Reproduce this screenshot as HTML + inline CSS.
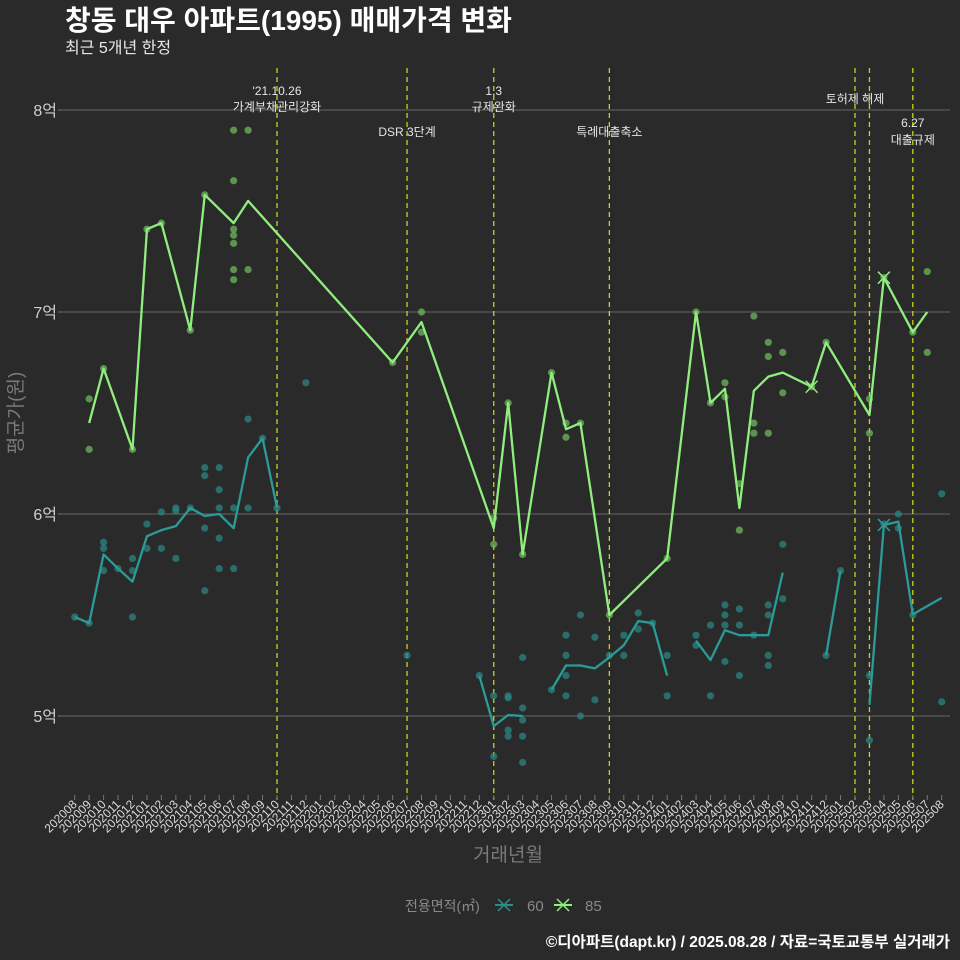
<!DOCTYPE html>
<html><head><meta charset="utf-8">
<style>
html,body{margin:0;padding:0;background:#2b2a2b;}
svg{display:block;font-family:"Liberation Sans","Noto Sans CJK KR",sans-serif;}
</style></head>
<body>
<svg id="chart" width="960" height="960" viewBox="0 0 960 960">
<rect width="960" height="960" fill="#2b2a2b"/>
<text x="65" y="30" font-size="28" font-weight="bold" fill="#ffffff">창동 대우 아파트(1995) 매매가격 변화</text>
<text x="65" y="53" font-size="16" fill="#e8e8e8">최근 5개년 한정</text>
<g id="grid"></g>
<g id="vlines"></g>
<g id="xaxis"></g>
<g id="yaxis"></g>
<g id="marks"></g>
<text x="22" y="413" font-size="19" fill="#7a7a7a" text-anchor="middle" transform="rotate(-90 22 413)">평균가(원)</text>
<text x="508" y="861" font-size="19" fill="#7a7a7a" text-anchor="middle">거래년월</text>
<g>
<text x="405" y="911" font-size="14" fill="#8a8a8a">전용면적(㎡)</text>
<g>
<line x1="495" y1="905" x2="513" y2="905" stroke="#2a8f8c" stroke-width="2"/>
<path d="M498 899 L510 911 M510 899 L498 911" stroke="#2a8f8c" stroke-width="1.5"/>
<text x="527" y="911" font-size="15" fill="#8a8a8a">60</text>
</g>
<g>
<line x1="554" y1="905" x2="572" y2="905" stroke="#90ee7e" stroke-width="2"/>
<path d="M557 899 L569 911 M569 899 L557 911" stroke="#90ee7e" stroke-width="1.5"/>
<text x="585" y="911" font-size="15" fill="#8a8a8a">85</text>
</g>
</g>
<text x="950" y="947" font-size="15.5" font-weight="bold" fill="#ffffff" text-anchor="end">©디아파트(dapt.kr) / 2025.08.28 / 자료=국토교통부 실거래가</text>
</svg>
<script>
const months = [];
for (let y = 2020; y <= 2025; y++) for (let m = 1; m <= 12; m++) {
  if ((y === 2020 && m < 8) || (y === 2025 && m > 8)) continue;
  months.push(String(y) + String(m).padStart(2, '0'));
}
const yTicks = [5, 6, 7, 8];
const yTickLabels = ['5억', '6억', '7억', '8억'];
const eventMonths = ['202110', '202207', '202301', '202309', '202502', '202503', '202506'];
const eventLabels = [
  ["'21.10.26", '가계부채관리강화'], ['', 'DSR 3단계'], ['1.3', '규제완화'], ['', '특례대출축소'], ['', '토허제 해제'], ['', ''], ['6.27', '대출규제']
];
const dots85 = [
  ['202009',6.57],['202009',6.32],['202010',6.72],['202012',6.32],['202101',7.41],['202102',7.44],['202104',6.91],['202105',7.58],
  ['202107',7.90],['202107',7.65],['202107',7.41],['202107',7.38],['202107',7.34],['202107',7.21],['202107',7.16],
  ['202108',7.90],['202108',7.21],['202206',6.75],['202208',7.00],['202208',6.90],['202301',5.98],['202301',5.85],
  ['202302',6.55],['202303',5.80],['202305',6.70],['202306',6.45],['202306',6.38],['202307',6.45],['202309',5.50],
  ['202401',5.78],['202403',7.00],['202404',6.55],['202405',6.65],['202405',6.58],['202406',6.15],['202406',5.92],
  ['202407',6.98],['202407',6.45],['202407',6.40],['202408',6.85],['202408',6.78],['202408',6.40],['202409',6.80],['202409',6.60],
  ['202411',6.63],['202412',6.85],['202503',6.57],['202503',6.40],['202504',7.17],['202506',6.90],['202507',7.20],['202507',6.80]
];
const dots60 = [
  ['202008',5.49],['202009',5.46],['202010',5.86],['202010',5.83],['202010',5.72],['202011',5.73],['202012',5.78],['202012',5.72],['202012',5.49],
  ['202101',5.95],['202101',5.83],['202102',6.01],['202102',5.83],['202103',6.03],['202103',6.015],['202103',5.78],['202104',6.03],
  ['202105',6.23],['202105',6.19],['202105',5.93],['202105',5.62],['202106',6.23],['202106',6.12],['202106',6.03],['202106',5.88],['202106',5.73],
  ['202107',6.03],['202107',5.73],['202108',6.47],['202108',6.03],['202109',6.375],['202110',6.03],['202112',6.65],['202207',5.30],
  ['202212',5.20],['202301',5.10],['202301',4.80],['202302',5.10],['202302',5.09],['202302',4.93],['202302',4.90],
  ['202303',5.29],['202303',5.04],['202303',4.98],['202303',4.90],['202303',4.77],['202305',5.13],
  ['202306',5.40],['202306',5.30],['202306',5.20],['202306',5.10],['202307',5.50],['202307',5.00],['202308',5.39],['202308',5.08],
  ['202309',5.30],['202310',5.40],['202310',5.30],['202311',5.51],['202311',5.43],['202312',5.46],['202401',5.30],['202401',5.10],
  ['202403',5.40],['202403',5.35],['202404',5.45],['202404',5.10],['202405',5.55],['202405',5.50],['202405',5.45],['202405',5.27],
  ['202406',5.53],['202406',5.45],['202406',5.20],['202407',5.40],['202408',5.55],['202408',5.50],['202408',5.30],['202408',5.25],
  ['202409',5.85],['202409',5.58],['202412',5.30],['202501',5.72],['202503',5.20],['202503',4.88],['202504',5.95],
  ['202505',6.00],['202505',5.93],['202506',5.50],['202508',6.10],['202508',5.07]
];
const line85 = [[
  ['202009',6.45],['202010',6.72],['202012',6.32],['202101',7.41],['202102',7.44],['202104',6.91],['202105',7.58],['202107',7.44],['202108',7.55],
  ['202206',6.75],['202208',6.95],['202301',5.93],['202302',6.55],['202303',5.80],['202305',6.70],['202306',6.42],['202307',6.45],['202309',5.50],
  ['202401',5.78],['202403',7.00],['202404',6.55],['202405',6.62],['202406',6.03],['202407',6.61],['202408',6.68],['202409',6.70],
  ['202411',6.63],['202412',6.85],['202503',6.49],['202504',7.17],['202506',6.90],['202507',7.00]
]];
const line60 = [
  [['202008',5.49],['202009',5.46],['202010',5.80],['202011',5.73],['202012',5.665],['202101',5.89],['202102',5.92],['202103',5.94],['202104',6.03],['202105',5.99],['202106',6.00],['202107',5.93],['202108',6.28],['202109',6.375],['202110',6.03]],
  [['202212',5.20],['202301',4.95],['202302',5.005],['202303',5.00]],
  [['202305',5.13],['202306',5.25],['202307',5.25],['202308',5.236],['202309',5.29],['202310',5.35],['202311',5.47],['202312',5.46],['202401',5.20]],
  [['202403',5.373],['202404',5.277],['202405',5.425],['202406',5.40],['202407',5.40],['202408',5.40],['202409',5.71]],
  [['202412',5.30],['202501',5.72]],
  [['202503',5.055],['202504',5.946],['202505',5.962],['202506',5.503],['202508',5.585]]
];
const xMarks85 = [['202411',6.63],['202504',7.17]];
const xMarks60 = [['202504',5.946]];

const NS = 'http://www.w3.org/2000/svg';
const X0 = 74.7, DX = 14.45, Y8 = 110, PER = 202;
function xs(m){ return X0 + DX * months.indexOf(m); }
function ys(v){ return Y8 + (8 - v) * PER; }
function mk(tag, attrs, parent){ const e = document.createElementNS(NS, tag); for (const k in attrs) e.setAttribute(k, attrs[k]); parent.appendChild(e); return e; }

const grid = document.getElementById('grid');
const yaxis = document.getElementById('yaxis');
yTicks.forEach((t, i) => {
  const l = mk('line', {x1: 62, x2: 950, y1: ys(t), y2: ys(t), stroke: '#5a5a5a', 'stroke-width': 1.2}, grid);
  
  
  mk('line', {x1: 58, x2: 62, y1: ys(t), y2: ys(t), stroke: '#777', 'stroke-width': 1}, yaxis);
  const tx = mk('text', {x: 57, y: ys(t) + 6, 'font-size': 16, fill: '#cfcfcf', 'text-anchor': 'end'}, yaxis);
  tx.textContent = yTickLabels[i];
  
  
});
const xaxis = document.getElementById('xaxis');
months.forEach(m => {
  const x = xs(m);
  mk('line', {x1: x, x2: x, y1: 795, y2: 800, stroke: '#777', 'stroke-width': 1}, xaxis);
  const tx = mk('text', {x: x + 3, y: 805, 'font-size': 12, fill: '#dcdcdc', 'text-anchor': 'end', transform: 'rotate(-45 ' + (x + 3) + ' 805)'}, xaxis);
  tx.textContent = m;
  
  
});
const vl = document.getElementById('vlines');
const labelY = [[95, 111], [0, 136], [95, 111], [0, 136], [0, 103], [0, 0], [127, 144]];
eventMonths.forEach((m, i) => {
  const x = xs(m);
  const l = mk('line', {x1: x, x2: x, y1: 68, y2: 800, stroke: '#c8d21e', 'stroke-width': 1.3, 'stroke-dasharray': '5,4'}, vl);
  
  
  const p = labelY[i];
  if (eventLabels[i][0]) {
    const t = mk('text', {x: x, y: p[0], 'font-size': 12, fill: '#e6e6e6', 'text-anchor': 'middle'}, vl);
    t.textContent = eventLabels[i][0];
    
    
  }
  if (eventLabels[i][1]) {
    const t = mk('text', {x: x, y: p[1], 'font-size': 12, fill: '#e6e6e6', 'text-anchor': 'middle'}, vl);
    t.textContent = eventLabels[i][1];
    
    
  }
});
const marks = document.getElementById('marks');
function drawDots(arr, color, name){
  arr.forEach(d => {
    const c = mk('circle', {cx: xs(d[0]), cy: ys(d[1]), r: 3.6, fill: color, 'fill-opacity': 0.75}, marks);
    
    
  });
}
function drawLines(segs, color, name){
  segs.forEach(seg => {
    if (seg.length < 2) return;
    const p = mk('polyline', {points: seg.map(d => xs(d[0]) + ',' + ys(d[1])).join(' '), fill: 'none', stroke: color, 'stroke-width': 2.3, 'stroke-linejoin': 'round'}, marks);
    
    
  });
}
function drawX(arr, color, name){
  arr.forEach(d => {
    const x = xs(d[0]), y = ys(d[1]);
    const p = mk('path', {d: `M${x-6} ${y-6}L${x+6} ${y+6}M${x+6} ${y-6}L${x-6} ${y+6}`, stroke: color, 'stroke-width': 1.5}, marks);
    
    
  });
}
drawDots(dots60, '#2a8582', 'trade-dot-60');
drawDots(dots85, '#6cb85c', 'trade-dot-85');
drawLines(line60, '#2a9b97', 'avg-line-60');
drawLines(line85, '#90ee7e', 'avg-line-85');
drawX(xMarks60, '#2a9b97', 'x-marker-60');
drawX(xMarks85, '#90ee7e', 'x-marker-85');
</script>
</body></html>
